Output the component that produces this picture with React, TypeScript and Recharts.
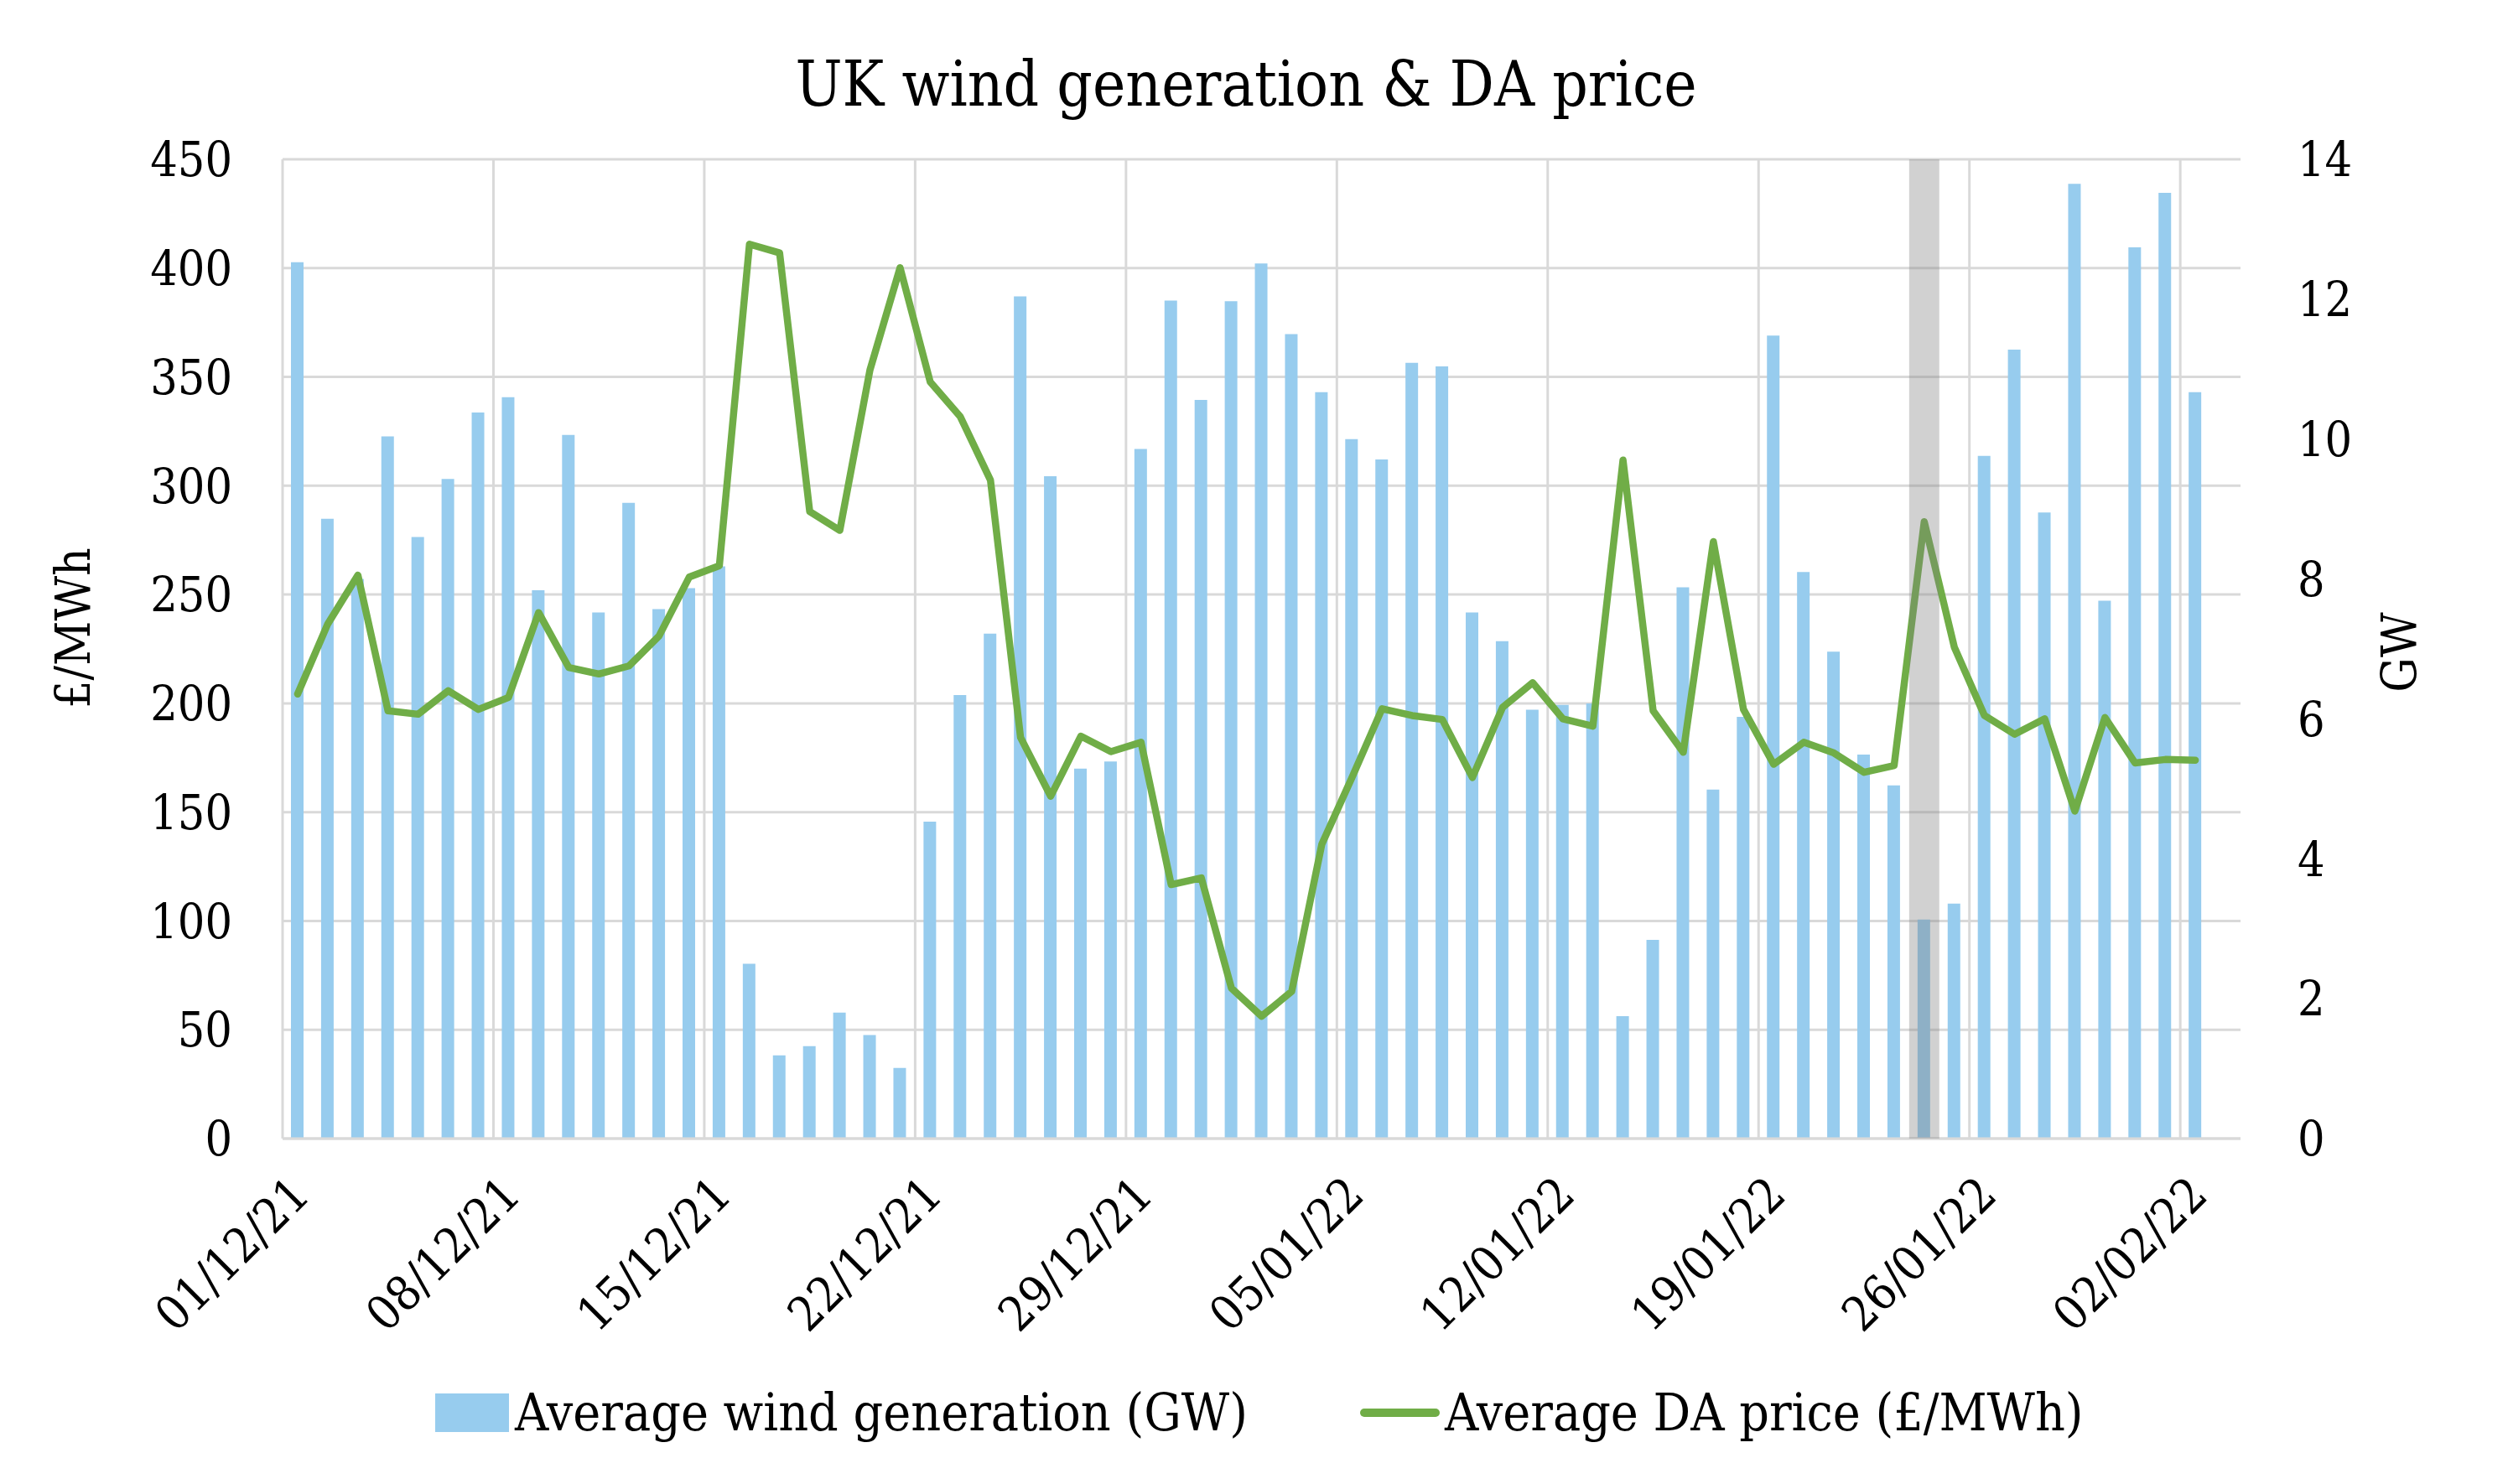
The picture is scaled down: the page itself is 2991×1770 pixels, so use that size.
import {
  Bar,
  CartesianGrid,
  ComposedChart,
  Customized,
  Label,
  Legend,
  Line,
  ReferenceArea,
  XAxis,
  YAxis,
} from "recharts";

const dates = [
  "01/12/21", "02/12/21", "03/12/21", "04/12/21", "05/12/21", "06/12/21", "07/12/21",
  "08/12/21", "09/12/21", "10/12/21", "11/12/21", "12/12/21", "13/12/21", "14/12/21",
  "15/12/21", "16/12/21", "17/12/21", "18/12/21", "19/12/21", "20/12/21", "21/12/21",
  "22/12/21", "23/12/21", "24/12/21", "25/12/21", "26/12/21", "27/12/21", "28/12/21",
  "29/12/21", "30/12/21", "31/12/21", "01/01/22", "02/01/22", "03/01/22", "04/01/22",
  "05/01/22", "06/01/22", "07/01/22", "08/01/22", "09/01/22", "10/01/22", "11/01/22",
  "12/01/22", "13/01/22", "14/01/22", "15/01/22", "16/01/22", "17/01/22", "18/01/22",
  "19/01/22", "20/01/22", "21/01/22", "22/01/22", "23/01/22", "24/01/22", "25/01/22",
  "26/01/22", "27/01/22", "28/01/22", "29/01/22", "30/01/22", "31/01/22", "01/02/22",
  "02/02/22", "03/02/22",
];

// average wind generation, GW
const windGw = [
  12.53, 8.86, 8.0, 10.04, 8.6, 9.43, 10.38,
  10.6, 7.84, 10.06, 7.52, 9.09, 7.57, 7.87,
  8.18, 2.5, 1.19, 1.32, 1.8, 1.48, 1.01,
  4.53, 6.34, 7.22, 12.04, 9.47, 5.29, 5.39,
  9.86, 11.98, 10.56, 11.97, 12.51, 11.5, 10.67,
  10.0, 9.71, 11.09, 11.04, 7.52, 7.11, 6.13,
  6.2, 6.22, 1.75, 2.84, 7.88, 4.99, 6.03,
  11.48, 8.1, 6.96, 5.49, 5.05, 3.13, 3.36,
  9.76, 11.28, 8.95, 13.65, 7.69, 12.74, 13.52,
  10.67, null,
];

// average day-ahead price, £/MWh
const daPrice = [
  204.3, 236.5, 258.9, 196.6, 195.0, 205.8, 197.2,
  202.7, 241.7, 216.5, 213.5, 217.2, 231.0, 258.0,
  263.2, 411.0, 407.0, 288.1, 279.5, 353.2, 400.2,
  347.7, 331.7, 302.6, 184.3, 157.3, 184.9, 177.8,
  182.1, 116.7, 119.8, 69.1, 56.2, 67.6, 135.2,
  165.9, 197.5, 194.4, 192.6, 165.9, 198.1, 209.5,
  192.9, 189.5, 311.8, 196.6, 177.5, 274.3, 197.2,
  172.0, 182.1, 177.2, 168.3, 171.4, 283.5, 225.8,
  194.4, 185.8, 192.9, 150.5, 193.5, 172.6, 174.2,
  173.9, null,
];

const priceTicks = [0, 50, 100, 150, 200, 250, 300, 350, 400, 450];
const gwTicks = [0, 2, 4, 6, 8, 10, 12, 14];
const highlightDate = "24/01/22";

const data = dates.map((date, i) => ({
  date,
  wind: windGw[i],
  price: daPrice[i],
}));

const FONT = "'DejaVu Serif Condensed', 'DejaVu Serif', serif";
const W = 2975;
const H = 1754;
const BLUE = "#97ccee";
const GREEN = "#70ad47";
const GRID = "#d9d9d9";

const DateTick = ({ x, y, payload }: any) => (
  <text
    x={x + 3}
    y={y}
    transform={`rotate(-45, ${x + 3}, ${y})`}
    textAnchor="end"
    dominantBaseline="central"
    fontFamily={FONT}
    fontSize={57}
    fill="#000"
  >
    {payload.value}
  </text>
);

const Title = () => (
  <text
    x={1478}
    y={118}
    textAnchor="middle"
    fontFamily={FONT}
    fontSize={74}
    fill="#000"
  >
    UK wind generation &amp; DA price
  </text>
);

const axisTitle = (value: string, cx: number, cy: number) => () =>
  (
    <text
      x={cx}
      y={cy}
      transform={`rotate(-90, ${cx}, ${cy})`}
      textAnchor="middle"
      dominantBaseline="central"
      fontFamily={FONT}
      fontSize={58}
      fill="#000"
    >
      {value}
    </text>
  );

const LegendRow = () => (
  <div
    style={{
      display: "flex",
      alignItems: "center",
      paddingLeft: 511,
      fontFamily: FONT,
      fontSize: 62,
      color: "#000",
      whiteSpace: "nowrap",
    }}
  >
    <span style={{ width: 88, height: 46, background: BLUE, marginRight: 7 }} />
    <span>Average wind generation (GW)</span>
    <span
      style={{
        width: 95,
        height: 10,
        borderRadius: 5,
        background: GREEN,
        marginLeft: 134,
        marginRight: 6,
      }}
    />
    <span>Average DA price (£/MWh)</span>
  </div>
);

const App = () => (
  <div style={{ position: "relative", width: W, height: H, background: "#fff" }}>
    <ComposedChart
      width={W}
      height={H}
      data={data}
      margin={{ top: 182, right: 111, bottom: 204, left: 129 }}
    >
      <CartesianGrid
        yAxisId="left"
        stroke={GRID}
        strokeWidth={3}
        verticalCoordinatesGenerator={({ offset }: any) =>
          dates
            .map((_, i) => i)
            .filter((i) => i % 7 === 0)
            .map((i) => offset.left + (i * offset.width) / dates.length)
        }
      />
      <XAxis
        dataKey="date"
        interval={6}
        height={200}
        axisLine={{ stroke: GRID, strokeWidth: 3 }}
        tickLine={false}
        tickSize={0}
        tickMargin={56}
        tick={<DateTick />}
      />
      <YAxis
        yAxisId="left"
        domain={[0, 450]}
        ticks={priceTicks}
        width={200}
        axisLine={false}
        tickLine={false}
        tickSize={0}
        tickMargin={60}
        tick={{ fontFamily: FONT, fontSize: 57, fill: "#000" }}
      >
        <Label content={axisTitle("£/MWh", 79, 741)} />
      </YAxis>
      <YAxis
        yAxisId="right"
        orientation="right"
        domain={[0, 14]}
        ticks={gwTicks}
        width={200}
        axisLine={false}
        tickLine={false}
        tickSize={0}
        tickMargin={68}
        tick={{ fontFamily: FONT, fontSize: 57, fill: "#000" }}
      >
        <Label content={axisTitle("GW", 2853, 770)} />
      </YAxis>
      <Bar
        yAxisId="right"
        dataKey="wind"
        name="Average wind generation (GW)"
        fill={BLUE}
        barSize={15}
        isAnimationActive={false}
      />
      <Line
        yAxisId="left"
        dataKey="price"
        name="Average DA price (£/MWh)"
        type="linear"
        stroke={GREEN}
        strokeWidth={8.5}
        strokeLinejoin="round"
        strokeLinecap="round"
        dot={false}
        activeDot={false}
        isAnimationActive={false}
      />
      <ReferenceArea
        yAxisId="left"
        x1={highlightDate}
        x2={highlightDate}
        y1={0}
        y2={450}
        fill="#808080"
        fillOpacity={0.36}
        stroke="none"
        zIndex={900}
      />
      <Legend
        verticalAlign="middle"
        align="center"
        wrapperStyle={{ top: 1640, left: 0, width: W, height: 80 }}
        content={() => <LegendRow />}
      />
      <Customized component={Title} />
    </ComposedChart>
  </div>
);

export default App;
